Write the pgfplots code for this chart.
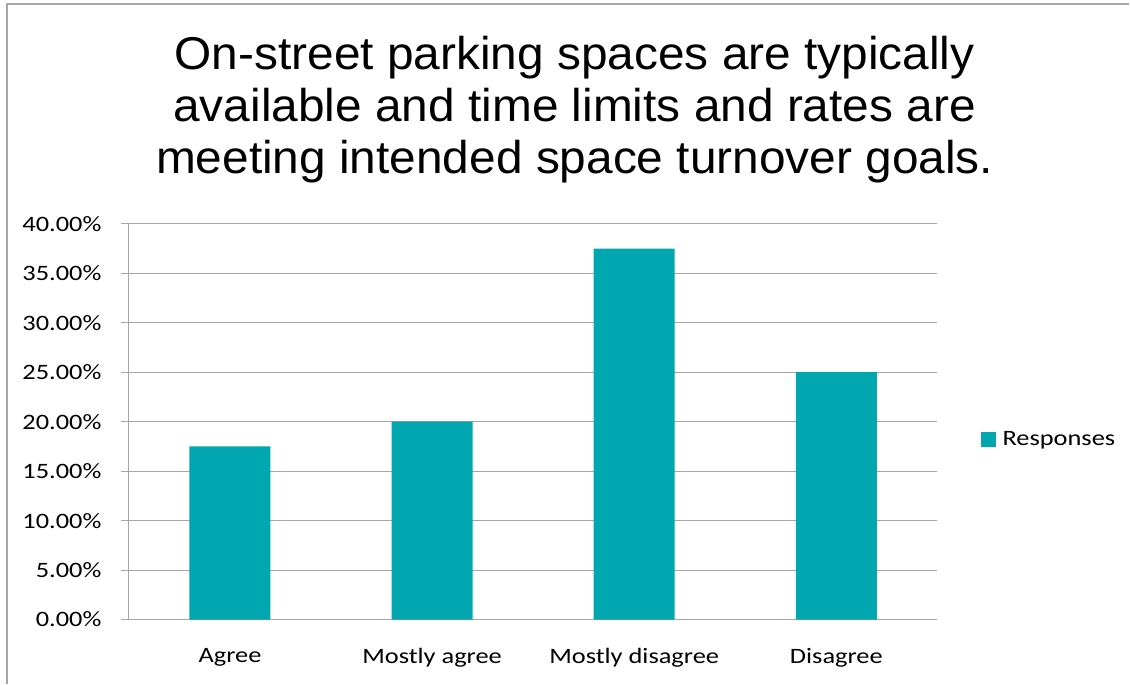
\documentclass[border=0pt]{standalone}
\usepackage{pgfplots}
\pgfplotsset{compat=1.18}
\usepackage{fontspec}
\setmainfont{Carlito}[FakeStretch=1.2]
\newfontfamily\arial{Liberation Sans}[FakeStretch=1.04]
\definecolor{bar}{RGB}{0,166,176}
\definecolor{gridc}{RGB}{166,166,166}
\begin{document}
\begin{tikzpicture}
\begin{axis}[
  scale only axis, width=809pt, height=396pt,
  xmin=-0.5, xmax=3.5, ymin=0, ymax=40,
  axis lines*=left,
  axis line style={gridc, line width=1pt},
  ymajorgrids, grid style={gridc, line width=1pt},
  ytick={0,5,...,40},
  yticklabel={\pgfmathprintnumber[fixed,fixed zerofill,precision=2]{\tick}\%},
  /pgf/number format/assume math mode=true,
  tick align=outside, major tick length=8pt,
  tick style={gridc, line width=1pt},
  xtick={0,1,2,3},
  xticklabels={Agree,Mostly agree,Mostly disagree,Disagree},
  x tick style={draw=none},
  extra x ticks={-0.5,0.5,1.5,2.5,3.5},
  extra x tick labels={},
  extra x tick style={tick style={gridc, line width=1pt}, major tick length=8pt},
  tick label style={font=\fontsize{22}{26}\selectfont},
  yticklabel style={xshift=-16pt},
  xticklabel style={yshift=-17pt},
  legend style={at={(1,0.455)}, anchor=west, draw=none, xshift=40pt,
     font=\fontsize{22}{26}\selectfont},
  legend image code/.code={\fill[bar] (0pt,-7.5pt) rectangle (15pt,7.5pt);},
]
\addplot[ybar, bar width=81pt, fill=bar, draw=none] coordinates {(0,17.5) (1,20) (2,37.5) (3,25)};
\addlegendentry{\hspace{5pt}Responses}
\end{axis}
\begin{scope}[x=1pt,y=1pt,shift={(-129pt,-64pt)}]
\path (0,0) rectangle (1130,684);
\draw[gridc, line width=1.5pt] (7,0) -- (7,680) -- (1130,680);
\node[font=\arial\fontsize{46}{52}\selectfont, align=center] at (575,574) {On-street parking spaces are typically\\available and time limits and rates are\\meeting intended space turnover goals.};
\end{scope}
\end{tikzpicture}
\end{document}
